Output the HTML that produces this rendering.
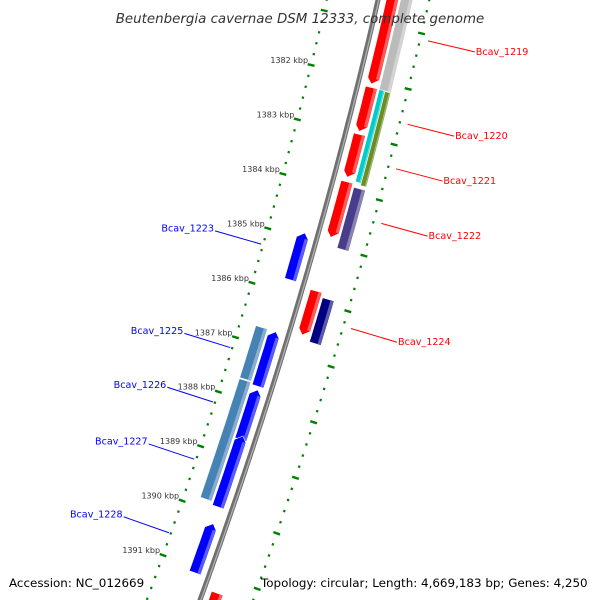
<!DOCTYPE html>
<html><head><meta charset="utf-8"><style>
html,body{margin:0;padding:0;background:#fff;width:600px;height:600px;overflow:hidden}
svg{display:block;overflow:hidden}
text{font-family:"DejaVu Sans","Liberation Sans",sans-serif}
</style></head><body>
<svg id="map" width="600" height="600" viewBox="0 0 600 600">
<defs><clipPath id="frame"><rect x="0" y="0" width="600" height="600"/></clipPath></defs>
<g clip-path="url(#frame)">
<g id="dots"></g>
<g id="backbone"></g>
<g id="feats"></g>
<g id="labels"></g>
<g id="ticklabels"></g>
</g>
<text x="300" y="23" text-anchor="middle" font-size="13.4" font-style="italic" fill="#333">Beutenbergia cavernae DSM 12333, complete genome</text>
<text x="9" y="587" font-size="11.9" fill="#000">Accession: NC_012669</text>
<text x="261" y="587" font-size="11.9" fill="#000">Topology: circular; Length: 4,669,183 bp; Genes: 4,250</text>
</svg>
<script>
// data (kbp)
const featNames = ["Bcav_1219","gray1","red2","red3","Bcav_1220","Bcav_1221","Bcav_1222","purple1","Bcav_1224","navy1","Bcav_1223","Bcav_1225","Bcav_1226","Bcav_1227","Bcav_1228","steel1","steel2","redEnd"];
const featStart = [1380.3,1380.2,1382.13,1382.98,1382.13,1382.14,1383.84,1383.9,1385.82,1385.9,1384.9,1386.7,1387.76,1388.6,1390.2,1386.7,1387.67,1391.3];
const featEnd   = [1382.07,1382.13,1382.93,1383.76,1383.8,1383.84,1384.85,1385.0,1386.62,1386.7,1385.76,1387.7,1388.67,1389.9,1391.1,1387.65,1389.84,1392.0];
const featTrack = [1,2,1,1,3,4,1,2,1,2,-1,-1,-1,-1,-1,-2,-2,1];
const featColor = ["#ff0000","#bbbbbb","#ff0000","#ff0000","#00cccc","#6b8e23","#ff0000","#483d8b","#ff0000","#000080","#0000ff","#0000ff","#0000ff","#0000ff","#0000ff","#4682b4","#4682b4","#ff0000"];
const featArrow = [1,0,1,1,0,0,1,0,1,0,-1,-1,-1,-1,-1,0,0,1];
const tickKbp = [1382,1383,1384,1385,1386,1387,1388,1389,1390,1391];
const rightLabels = ["Bcav_1219","Bcav_1220","Bcav_1221","Bcav_1222","Bcav_1224"];
const rightLabelKbp = [1381.1,1382.6,1383.4,1384.38,1386.27];
const leftLabels = ["Bcav_1223","Bcav_1225","Bcav_1226","Bcav_1227","Bcav_1228"];
const leftLabelKbp = [1385.3,1387.2,1388.2,1389.25,1390.6];

const NS="http://www.w3.org/2000/svg";
function yb(k){return 77+(k-1382)*55;}
function P(k,r){const y=yb(k);const d=-0.23-0.000222*y;const x=378-0.23*y-0.000111*y*y;const n=Math.sqrt(1+d*d);return [x+r/n,y-r*d/n];}
function mk(tag,attrs,parent){const e=document.createElementNS(NS,tag);for(const a in attrs)e.setAttribute(a,attrs[a]);parent.appendChild(e);return e;}
function pts(a){return a.map(p=>p[0].toFixed(1)+","+p[1].toFixed(1)).join(" ");}

// backbone
const bb=document.getElementById('backbone');
let bp=[];for(let k=1380.3;k<=1392.0;k+=0.1)bp.push(P(k,0));
let e=mk('polyline',{points:pts(bp),fill:'none',stroke:'#707070',"stroke-width":5},bb);

bp=[];for(let k=1380.3;k<=1392.0;k+=0.1)bp.push(P(k,0.8));
mk('polyline',{points:pts(bp),fill:'none',stroke:'#b0b0b0',"stroke-width":1.3},bb);

// dotted rings and ticks
const dg=document.getElementById('dots');
[-50,50].forEach(r=>{
  for(let i=0;i<=60;i++){const k=1380.4+i*0.2;
    const major=Math.abs(k-Math.round(k))<0.01;
    let a,b,w;
    if(major){a=P(k,r-3.5);b=P(k,r+3.5);w=2.4;}
    else {a=P(k-0.02,r);b=P(k+0.02,r);w=2.2;}
    const l=mk('line',{x1:a[0],y1:a[1],x2:b[0],y2:b[1],stroke:'#008000',"stroke-width":w},dg);
    
    }
});
const tl=document.getElementById('ticklabels');
tickKbp.forEach(k=>{const p=P(k,-50);
  const t=mk('text',{x:p[0]-3,y:p[1]-2,"text-anchor":"end","font-size":8,fill:'#333'},tl);
  t.textContent=k+" kbp";
  
  });

// features
const fg=document.getElementById('feats');
const trackR={1:[8,20],2:[22,34],3:[22,28],4:[28,34],"-1":[-8,-20],"-2":[-22,-34]};
function lighten(c){const n=parseInt(c.slice(1),16);let r=n>>16,g=(n>>8)&255,b=n&255;r=Math.round(r+(255-r)*0.45);g=Math.round(g+(255-g)*0.45);b=Math.round(b+(255-b)*0.45);return `rgb(${r},${g},${b})`;}
featNames.forEach((nm,i)=>{
  const [r1,r2]=trackR[featTrack[i]];const s=featStart[i],en=featEnd[i];
  const inner=Math.min(r1,r2),outer=Math.max(r1,r2),mid=(inner+outer)/2;
  const ah=0.1;let a=[],b=[];
  let ks=s,ke=en;
  if(featArrow[i]===1)ke=en-ah; if(featArrow[i]===-1)ks=s+ah;
  const N=8;
  for(let j=0;j<=N;j++){const k=ks+(ke-ks)*j/N;a.push(P(k,inner));b.push(P(k,outer));}
  let poly=a.slice();
  if(featArrow[i]===1)poly.push(P(en,mid-1));
  poly=poly.concat(b.slice().reverse());
  if(featArrow[i]===-1)poly.push(P(s,mid+1));
  const g=mk('g',{},fg);
  
  
  mk('polygon',{points:pts(poly),fill:featColor[i],stroke:'#fff',"stroke-width":0.6},g);
  const hs=[];const w=(outer-inner)*0.3;
  for(let j=0;j<=N;j++){const k=ks+(ke-ks)*j/N;hs.push(P(k,outer-w));}
  for(let j=N;j>=0;j--){const k=ks+(ke-ks)*j/N;hs.push(P(k,outer-0.5));}
  mk('polygon',{points:pts(hs),fill:lighten(featColor[i]),opacity:0.8},g);
});

// labels
const lg=document.getElementById('labels');
rightLabels.forEach((nm,i)=>{const k=rightLabelKbp[i];const a=P(k,58),b=P(k,106);
  const l=mk('line',{x1:a[0],y1:a[1],x2:b[0],y2:b[1],stroke:'#ff0000',"stroke-width":1},lg);
  
  const t=mk('text',{x:b[0]+1,y:b[1]+3,"font-size":9.6,fill:'#ff0000'},lg);t.textContent=nm;
  });
leftLabels.forEach((nm,i)=>{const k=leftLabelKbp[i];const a=P(k,-52),b=P(k,-100);
  const l=mk('line',{x1:a[0],y1:a[1],x2:b[0],y2:b[1],stroke:'#0000ff',"stroke-width":1},lg);
  
  const t=mk('text',{x:b[0]-1,y:b[1]+0.5,"font-size":9.6,fill:'#0000ff',"text-anchor":"end"},lg);t.textContent=nm;
  });
</script>
</body></html>
